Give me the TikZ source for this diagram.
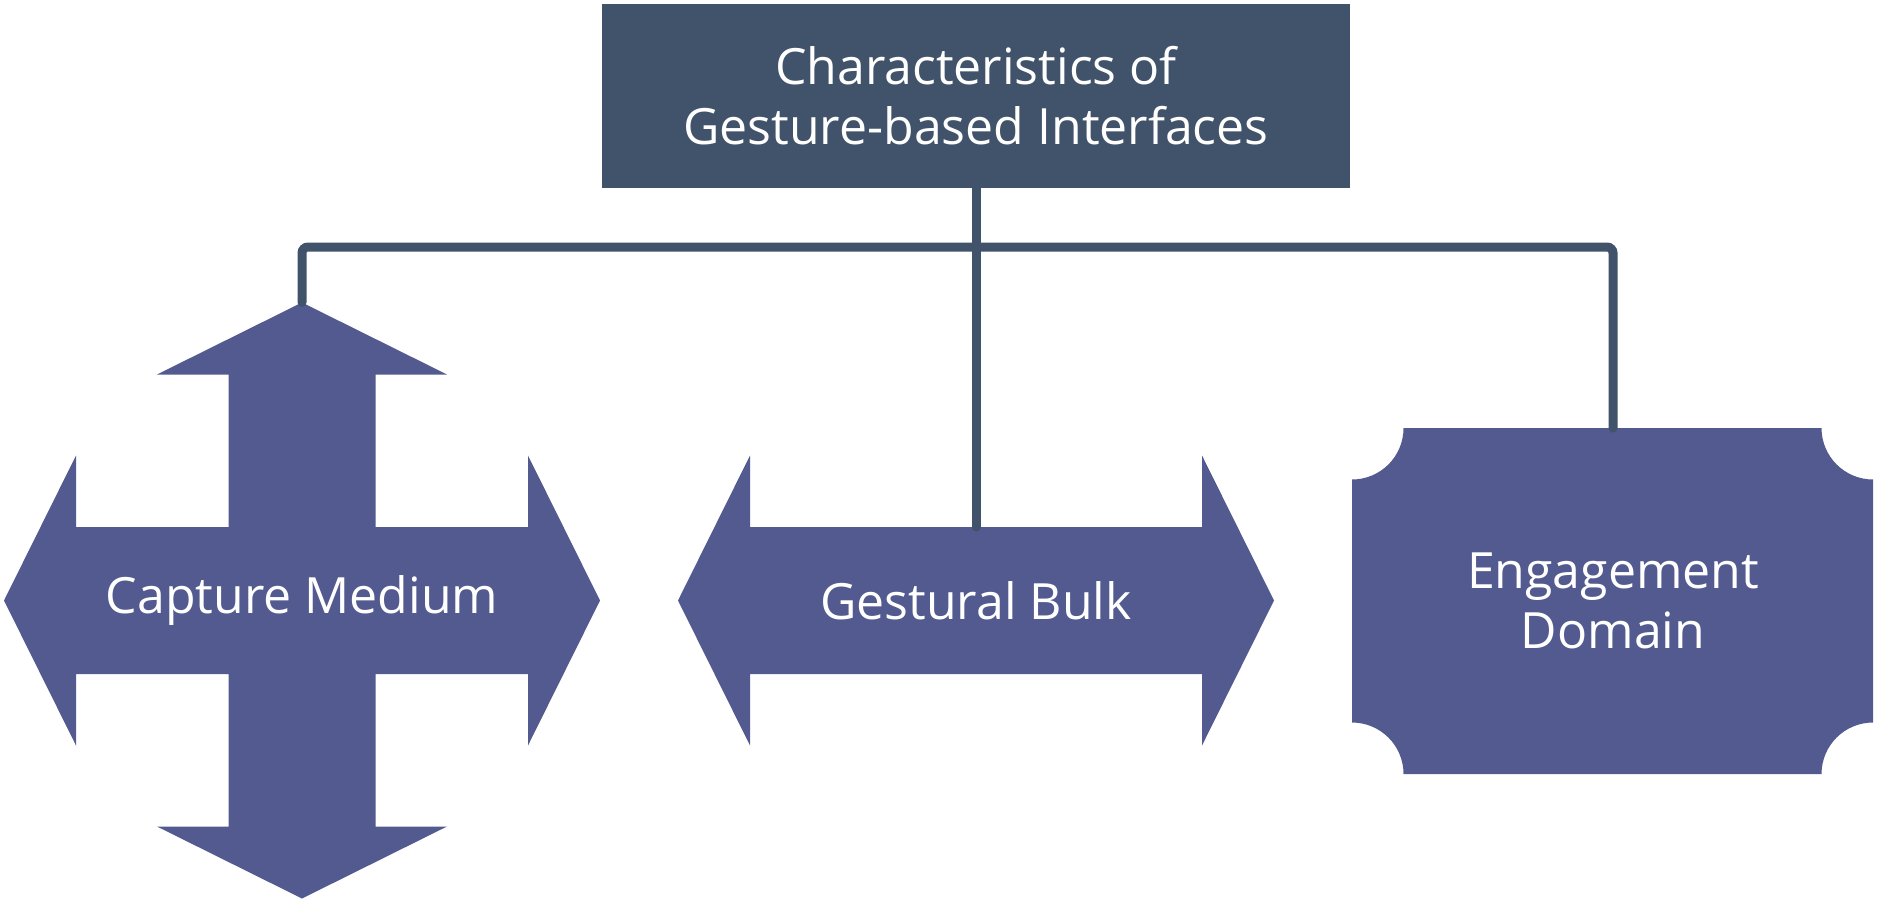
\documentclass[tikz,border=0pt]{standalone}
\usepackage{fontspec}
\setmainfont{Open Sans}
\definecolor{slate}{HTML}{41536A}
\definecolor{shapecol}{HTML}{525A8F}
\begin{document}
\begin{tikzpicture}[x=1pt,y=-1pt,
  lbl/.style={text=white, font=\fontsize{50}{59.5}\selectfont, align=center, inner sep=0pt},
  conn/.style={draw=slate, line width=9pt, line cap=round, rounded corners=6pt},
  shp/.style={fill=shapecol}]
\useasboundingbox (0,0) rectangle (1878,903);

% title
\node[fill=slate, minimum width=748pt, minimum height=184.4pt, inner sep=0pt, lbl] (title) at (976,95.8) {Characteristics of\\Gesture-based Interfaces};

% capture medium cross
\begin{scope}[shift={(302,600.5)}]
\fill[shp] (0,-298) -- (145,-226) -- (73.5,-226) -- (73.5,-73.5) -- (226,-73.5) -- (226,-145) -- (298,0) -- (226,145) -- (226,73.5) -- (73.5,73.5) -- (73.5,226) -- (145,226) -- (0,298) -- (-145,226) -- (-73.5,226) -- (-73.5,73.5) -- (-226,73.5) -- (-226,145) -- (-298,0) -- (-226,-145) -- (-226,-73.5) -- (-73.5,-73.5) -- (-73.5,-226) -- (-145,-226) -- cycle;
\end{scope}
\node[lbl] (cm) at (302,600.5) {Capture Medium};
\coordinate (cmtop) at (302,302.5);

% gestural bulk double arrow
\begin{scope}[shift={(976,600.5)}]
\fill[shp] (-298,0) -- (-226,-145) -- (-226,-73.5) -- (226,-73.5) -- (226,-145) -- (298,0) -- (226,145) -- (226,73.5) -- (-226,73.5) -- (-226,145) -- cycle;
\end{scope}
\node[lbl] (gb) at (976,600.5) {Gestural Bulk};
\coordinate (gbtop) at (976,527);

% engagement domain
\fill[shp] (1403.5,428) -- (1821.5,428)
  arc[start angle=180, end angle=90, radius=51.5]
  -- (1873,722.5)
  arc[start angle=270, end angle=180, radius=51.5]
  -- (1403.5,774)
  arc[start angle=0, end angle=-90, radius=51.5]
  -- (1352,479.5)
  arc[start angle=90, end angle=0, radius=51.5]
  -- cycle;
\node[lbl] (ed) at (1613,601) {Engagement\\Domain};
\coordinate (edtop) at (1613,428);

% connectors
\coordinate (bar) at (976,247);
\draw[conn] (cmtop) |- (bar) -| (edtop);
\draw[conn] (title.south) -- (gbtop);
\end{tikzpicture}
\end{document}
